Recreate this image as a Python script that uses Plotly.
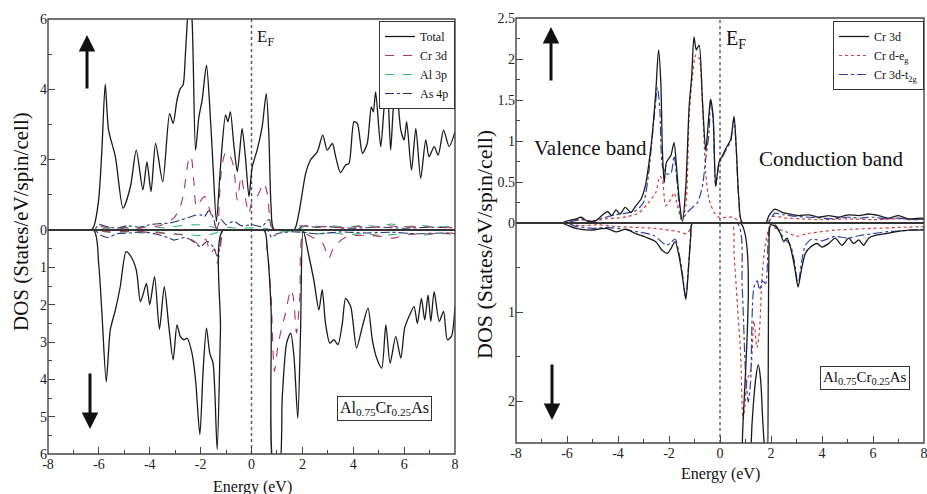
import plotly.graph_objects as go

W, H = 927, 494
SERIF = "Liberation Serif, Times New Roman, serif"

# ---------------- Al0.75Cr0.25As : total and partial DOS ----------------
# (energy in eV, DOS in states/eV/spin/cell); spin-down values stored as magnitudes
total_up = [(-8, 0), (-6.3, 0), (-6.2, 0.1), (-6.01, 0.85), (-5.88, 2.3), (-5.75, 4.15), (-5.62, 2.85),
            (-5.35, 2.08), (-5.05, 0.62), (-4.76, 1.23), (-4.53, 2.27), (-4.27, 1.14), (-4.11, 1.94),
            (-3.95, 1.09), (-3.77, 2.46), (-3.49, 1.37), (-3.22, 3.31), (-3.08, 3.03), (-2.93, 3.69),
            (-2.80, 4.02), (-2.69, 4.12), (-2.59, 5.11), (-2.45, 6.6), (-2.34, 6.0), (-2.2, 2.27),
            (-2.07, 3.2), (-1.94, 3.7), (-1.77, 4.69), (-1.64, 3.5), (-1.51, 1.8), (-1.38, 0.24),
            (-1.22, 1.8), (-1.02, 3.27), (-0.93, 3.08), (-0.83, 3.36), (-0.70, 2.46), (-0.56, 1.66),
            (-0.46, 2.27), (-0.37, 2.89), (-0.24, 2.08), (-0.10, 0.95), (0.03, 1.8), (0.22, 2.27),
            (0.42, 2.94), (0.58, 3.88), (0.68, 2.75), (0.77, 0.66), (0.88, 0.02), (1.67, 0),
            (1.86, 0.47), (2.13, 1.61), (2.32, 1.99), (2.59, 2.23), (2.80, 2.70), (2.98, 2.27),
            (3.18, 2.46), (3.31, 2.08), (3.50, 1.63), (3.70, 1.85), (3.83, 1.89), (4.03, 3.08),
            (4.16, 3.03), (4.36, 2.18), (4.55, 2.46), (4.71, 3.5), (4.79, 3.36), (4.88, 3.93),
            (5.08, 2.37), (5.24, 3.69), (5.34, 4.02), (5.47, 2.27), (5.60, 3.69), (5.70, 3.98),
            (5.87, 2.84), (6.00, 2.56), (6.10, 3.08), (6.29, 1.7), (6.46, 2.89), (6.65, 1.47),
            (6.85, 2.56), (6.98, 2.08), (7.18, 2.37), (7.34, 2.13), (7.55, 2.84), (7.77, 2.37),
            (8.0, 2.79)]

total_dn = [(-8, 0), (-6.21, 0), (-6.01, 0.89), (-5.88, 2.23), (-5.71, 4.06), (-5.55, 2.67), (-5.35, 2.14),
            (-5.16, 1.52), (-4.93, 0.58), (-4.74, 0.71), (-4.53, 1.07), (-4.37, 1.92), (-4.27, 1.74),
            (-4.13, 1.43), (-4.0, 2.0), (-3.81, 1.25), (-3.62, 2.66), (-3.43, 1.52), (-3.25, 2.58),
            (-3.08, 3.48), (-2.93, 2.54), (-2.8, 2.85), (-2.66, 2.94), (-2.53, 2.9), (-2.34, 3.3),
            (-2.2, 4.01), (-2.03, 5.48), (-1.90, 3.74), (-1.77, 2.63), (-1.64, 3.3), (-1.51, 3.57),
            (-1.35, 5.88), (-1.22, 2.67), (-1.12, 0), (0.49, 0), (0.62, 0.53), (0.77, 2.14),
            (0.88, 6.4), (1.08, 6.4), (1.21, 4.46), (1.38, 3.03), (1.54, 2.76), (1.67, 3.39),
            (1.82, 5.04), (1.93, 2.67), (2.03, 0), (2.26, 0.71), (2.45, 1.34), (2.65, 2.14),
            (2.78, 1.6), (2.91, 2.5), (3.08, 3.03), (3.24, 2.94), (3.40, 3.07), (3.57, 2.5),
            (3.70, 1.83), (3.90, 2.05), (4.13, 3.16), (4.36, 2.58), (4.58, 2.09), (4.75, 2.94),
            (4.92, 3.43), (5.12, 3.7), (5.28, 2.54), (5.45, 3.57), (5.67, 2.85), (5.87, 3.43),
            (6.02, 2.63), (6.19, 2.32), (6.39, 2.05), (6.52, 2.5), (6.68, 1.83), (6.81, 2.41),
            (6.94, 1.74), (7.05, 2.45), (7.18, 1.65), (7.38, 2.45), (7.55, 2.18), (7.70, 2.94),
            (7.86, 2.85), (8.0, 2.05)]

cr3d_up = [(-8, 0), (-6.2, 0), (-6.0, 0.1), (-5.6, 0.05), (-5.2, 0.03), (-4.8, 0.08), (-4.4, 0.05),
           (-4.0, 0.1), (-3.6, 0.12), (-3.32, 0.24), (-3.06, 0.33), (-2.93, 0.47), (-2.8, 0.66),
           (-2.67, 1.04), (-2.56, 1.6), (-2.47, 2.0), (-2.38, 2.1), (-2.27, 1.42), (-2.17, 0.66),
           (-2.03, 0.8), (-1.85, 0.95), (-1.68, 0.66), (-1.48, 0.19), (-1.35, 0.05), (-1.22, 1.42),
           (-1.09, 2.08), (-0.98, 2.23), (-0.83, 2.08), (-0.7, 1.8), (-0.56, 0.85), (-0.41, 1.52),
           (-0.28, 1.04), (-0.1, 0.47), (0.03, 0.85), (0.22, 0.95), (0.49, 1.33), (0.62, 1.04),
           (0.77, 0.1), (0.9, 0), (1.7, 0), (1.9, 0.12), (2.4, 0.08), (3.0, 0.1), (3.6, 0.06),
           (4.2, 0.1), (4.8, 0.08), (5.4, 0.12), (6.0, 0.08), (6.6, 0.1), (7.2, 0.07), (8.0, 0.08)]

cr3d_dn = [(-8, 0), (-6.2, 0), (-5.6, 0.05), (-4.8, 0.04), (-4.0, 0.06), (-3.2, 0.1), (-2.6, 0.15),
           (-2.0, 0.4), (-1.8, 0.25), (-1.61, 0.62), (-1.45, 0.5), (-1.35, 0.89), (-1.22, 0.5),
           (-1.12, 0), (0.49, 0), (0.62, 0.53), (0.77, 1.8), (0.9, 3.79), (1.04, 3.1), (1.17, 2.67),
           (1.34, 2.23), (1.54, 1.6), (1.64, 1.78), (1.77, 2.76), (1.9, 1.78), (2.03, 0.1),
           (2.45, 0.22), (2.8, 0.36), (3.04, 0.76), (3.24, 0.45), (3.75, 0.18), (4.5, 0.14),
           (5.2, 0.18), (5.5, 0.22), (6.2, 0.12), (7.0, 0.1), (8.0, 0.08)]

al3p_up = [(-8, 0), (-6.2, 0), (-5.8, 0.05), (-5.2, 0.08), (-4.6, 0.04), (-4.0, 0.1), (-3.4, 0.06),
           (-2.8, 0.12), (-2.2, 0.15), (-1.6, 0.1), (-1.3, 0.04), (-1.0, 0.08), (-0.5, 0.05),
           (0.0, 0.06), (0.5, 0.05), (0.85, 0), (1.8, 0), (2.2, 0.15), (2.6, 0.1), (3.2, 0.12),
           (3.8, 0.08), (4.4, 0.14), (5.0, 0.1), (5.5, 0.17), (6.0, 0.1), (6.6, 0.13), (7.2, 0.09),
           (8.0, 0.1)]

al3p_dn = [(-8, 0), (-6.2, 0), (-5.6, 0.06), (-5.0, 0.04), (-4.4, 0.08), (-3.8, 0.05), (-3.2, 0.1),
           (-2.6, 0.12), (-2.0, 0.15), (-1.5, 0.1), (-1.12, 0), (0.6, 0), (1.0, 0.05), (1.6, 0.04),
           (2.1, 0.06), (2.6, 0.1), (3.2, 0.08), (3.8, 0.12), (4.4, 0.1), (5.0, 0.14), (5.6, 0.12),
           (6.2, 0.1), (6.8, 0.13), (7.4, 0.09), (8.0, 0.12)]

as4p_up = [(-8, 0), (-6.2, 0), (-6.0, 0.15), (-5.7, 0.1), (-5.3, 0.05), (-4.9, 0.12), (-4.4, 0.08),
           (-4.0, 0.15), (-3.6, 0.18), (-3.2, 0.2), (-2.8, 0.28), (-2.5, 0.35), (-2.2, 0.42),
           (-2.0, 0.43), (-1.85, 0.38), (-1.68, 0.55), (-1.5, 0.35), (-1.38, 0.05), (-1.2, 0.3),
           (-1.0, 0.15), (-0.7, 0.25), (-0.4, 0.12), (0.0, 0.15), (0.4, 0.1), (0.7, 0.3), (0.85, 0),
           (1.8, 0), (2.0, 0.12), (2.5, 0.08), (3.0, 0.1), (3.5, 0.06), (4.0, 0.05), (5.0, 0.08),
           (6.0, 0.05), (7.0, 0.08), (8.0, 0.06)]

as4p_dn = [(-8, 0), (-6.2, 0), (-5.9, 0.15), (-5.62, 0.2), (-5.3, 0.1), (-4.8, 0.08), (-4.3, 0.05),
           (-3.8, 0.1), (-3.3, 0.2), (-3.06, 0.27), (-2.6, 0.2), (-2.3, 0.3), (-2.0, 0.45),
           (-1.75, 0.3), (-1.5, 0.45), (-1.35, 0.7), (-1.2, 0.3), (-1.12, 0), (0.6, 0), (0.8, 0.2),
           (1.0, 0.1), (1.5, 0.05), (2.0, 0.06), (2.5, 0.1), (3.0, 0.08), (3.5, 0.05), (4.5, 0.08),
           (5.5, 0.06), (6.5, 0.1), (7.5, 0.08), (8.0, 0.1)]

# ---------------- Cr 3d and its e_g / t_2g components ----------------
d_up = [(-8, 0), (-6.2, 0), (-6.04, 0.02), (-5.65, 0.05), (-5.45, 0.07), (-5.19, 0.02), (-4.86, 0.03),
        (-4.6, 0.1), (-4.41, 0.14), (-4.24, 0.09), (-4.08, 0.16), (-3.92, 0.11), (-3.72, 0.19),
        (-3.49, 0.13), (-3.3, 0.21), (-3.1, 0.29), (-2.93, 0.45), (-2.8, 0.7), (-2.65, 1.1),
        (-2.52, 1.59), (-2.41, 2.11), (-2.32, 1.71), (-2.26, 0.9), (-2.19, 0.49), (-2.1, 0.74),
        (-1.93, 0.82), (-1.8, 0.98), (-1.71, 0.7), (-1.6, 0.29), (-1.47, 0.02), (-1.34, 0.45),
        (-1.21, 1.42), (-1.11, 1.79), (-1.02, 2.27), (-0.93, 2.11), (-0.82, 2.17), (-0.69, 1.5),
        (-0.56, 0.88), (-0.47, 1.18), (-0.37, 1.51), (-0.27, 1.3), (-0.17, 0.45), (-0.04, 0.74),
        (0.09, 0.82), (0.25, 0.92), (0.42, 1.02), (0.55, 1.3), (0.64, 0.9), (0.74, 0.29),
        (0.87, 0.01), (1.79, 0), (1.92, 0.09), (2.15, 0.17), (2.44, 0.13), (2.7, 0.11),
        (3.09, 0.09), (3.48, 0.1), (3.87, 0.07), (4.26, 0.09), (4.65, 0.07), (5.05, 0.1),
        (5.44, 0.09), (5.83, 0.11), (6.22, 0.09), (6.61, 0.06), (7.0, 0.09), (7.39, 0.05),
        (7.91, 0.06), (8.0, 0.05)]

eg_up = [(-8, 0), (-6.1, 0), (-5.8, 0.03), (-5.45, 0.05), (-5.0, 0.02), (-4.5, 0.05), (-4.0, 0.06),
         (-3.6, 0.08), (-3.2, 0.12), (-2.8, 0.25), (-2.52, 0.37), (-2.36, 0.57), (-2.26, 0.53),
         (-2.13, 0.21), (-1.93, 0.29), (-1.8, 0.37), (-1.67, 0.21), (-1.5, 0.03), (-1.34, 0.21),
         (-1.21, 1.3), (-1.08, 1.79), (-0.95, 2.05), (-0.82, 2.01), (-0.69, 1.46), (-0.56, 0.61),
         (-0.43, 0.29), (-0.23, 0.13), (-0.04, 0.07), (0.5, 0.07), (0.7, 0.03), (0.85, 0),
         (1.85, 0), (2.1, 0.08), (2.6, 0.06), (3.2, 0.05), (4.0, 0.04), (5.0, 0.05), (6.0, 0.04),
         (7.0, 0.05), (8.0, 0.04)]

t2g_up = [(-8, 0), (-6.1, 0), (-5.8, 0.02), (-5.45, 0.04), (-5.0, 0.02), (-4.6, 0.06), (-4.1, 0.1),
          (-3.7, 0.12), (-3.3, 0.15), (-3.0, 0.25), (-2.8, 0.6), (-2.58, 1.3), (-2.45, 1.65),
          (-2.36, 1.38), (-2.26, 0.7), (-2.1, 0.6), (-1.93, 0.6), (-1.8, 0.82), (-1.67, 0.45),
          (-1.5, 0.05), (-1.28, 0.13), (-1.08, 0.19), (-0.88, 0.25), (-0.69, 0.45), (-0.56, 0.78),
          (-0.43, 1.1), (-0.37, 1.5), (-0.27, 1.28), (-0.17, 0.45), (-0.04, 0.72), (0.09, 0.8),
          (0.25, 0.9), (0.42, 1.0), (0.55, 1.28), (0.64, 0.88), (0.74, 0.28), (0.87, 0),
          (1.85, 0), (2.0, 0.06), (2.15, 0.12), (2.5, 0.1), (3.0, 0.08), (3.5, 0.07), (4.0, 0.06),
          (4.5, 0.05), (5.0, 0.07), (5.5, 0.06), (6.0, 0.07), (6.5, 0.05), (7.0, 0.06),
          (7.5, 0.04), (8.0, 0.05)]

d_dn = [(-8, 0), (-6.2, 0), (-5.95, 0.03), (-5.65, 0.06), (-5.1, 0.08), (-4.45, 0.06), (-4.08, 0.1),
        (-3.69, 0.07), (-3.3, 0.12), (-2.91, 0.16), (-2.52, 0.21), (-2.26, 0.31), (-2.06, 0.34),
        (-1.93, 0.29), (-1.76, 0.21), (-1.6, 0.38), (-1.47, 0.61), (-1.34, 0.86), (-1.24, 0.53),
        (-1.15, 0.16), (-1.08, 0), (0.81, 0), (0.87, 2.6), (1.0, 3.2), (1.15, 2.9), (1.26, 2.24),
        (1.40, 1.75), (1.5, 1.59), (1.59, 1.75), (1.68, 2.24), (1.76, 2.6), (1.85, 2.9),
        (1.92, 0.34), (1.98, 0.02), (2.18, 0.04), (2.37, 0.12), (2.5, 0.21), (2.63, 0.17),
        (2.76, 0.27), (2.93, 0.5), (3.06, 0.72), (3.19, 0.53), (3.35, 0.34), (3.55, 0.27),
        (3.81, 0.23), (4.0, 0.27), (4.26, 0.23), (4.52, 0.17), (4.78, 0.25), (5.05, 0.17),
        (5.24, 0.23), (5.44, 0.19), (5.63, 0.25), (5.83, 0.17), (6.09, 0.14), (6.48, 0.12),
        (6.87, 0.1), (7.39, 0.08), (7.91, 0.08), (8.0, 0.08)]

eg_dn = [(-8, 0), (-6.1, 0), (-5.5, 0.03), (-4.8, 0.02), (-4.0, 0.04), (-3.2, 0.05), (-2.6, 0.06),
         (-2.0, 0.08), (-1.6, 0.1), (-1.3, 0.12), (-1.15, 0.05), (-1.08, 0), (0.45, 0), (0.55, 0.34),
         (0.68, 0.91), (0.81, 1.48), (0.9, 2.2), (0.98, 2.05), (1.07, 1.75), (1.2, 1.67),
         (1.33, 1.1), (1.45, 1.4), (1.55, 1.2), (1.65, 0.6), (1.8, 0.2), (1.95, 0.05), (2.2, 0.06),
         (2.6, 0.1), (3.0, 0.15), (3.4, 0.12), (3.9, 0.1), (4.5, 0.08), (5.2, 0.07), (6.0, 0.06),
         (7.0, 0.05), (8.0, 0.04)]

t2g_dn = [(-8, 0), (-6.1, 0), (-5.6, 0.04), (-5.0, 0.06), (-4.4, 0.05), (-3.8, 0.07), (-3.2, 0.1),
          (-2.6, 0.14), (-2.1, 0.25), (-1.93, 0.22), (-1.76, 0.18), (-1.6, 0.35), (-1.47, 0.58),
          (-1.34, 0.84), (-1.24, 0.5), (-1.15, 0.15), (-1.08, 0), (0.68, 0), (0.87, 0.72),
          (1.0, 1.67), (1.11, 2.01), (1.2, 1.78), (1.33, 0.72), (1.46, 0.65), (1.55, 0.75),
          (1.66, 0.65), (1.79, 0.68), (1.89, 0.17), (1.98, 0), (2.2, 0.03), (2.45, 0.15),
          (2.76, 0.25), (2.93, 0.45), (3.06, 0.7), (3.19, 0.45), (3.35, 0.25), (3.6, 0.18),
          (4.0, 0.2), (4.5, 0.15), (5.0, 0.17), (5.5, 0.14), (6.0, 0.12), (6.5, 0.1), (7.0, 0.09),
          (7.5, 0.08), (8.0, 0.07)]

energy_ticks = [-8, -6, -4, -2, 0, 2, 4, 6, 8]
energy_labels = ["-8", "-6", "-4", "-2", "0", "2", "4", "6", "8"]


def unzip(pairs):
    return [p[0] for p in pairs], [p[1] for p in pairs]


def fx(px):
    return px / W


def fy(py):
    return 1 - py / H


# panel boxes in page pixels
LX0, LX1, LTOP, LMID, LBOT = 48, 455, 19, 230, 454
RX0, RX1, RTOP, RMID, RBOT = 516, 924, 18, 223, 443

BLACK = "#1a1a1a"
CR_RED = "#b0385a"
AL_GRN = "#2eb872"
AS_BLU = "#26307a"
EG_RED = "#d23c3c"
T2_BLU = "#3440a6"

fig = go.Figure()


def add(pairs, xa, ya, name, color, dash, width, legend, show, rank):
    x, y = unzip(pairs)
    fig.add_trace(go.Scatter(
        x=x, y=y, xaxis=xa, yaxis=ya, mode="lines", name=name,
        line=dict(color=color, dash=dash, width=width, shape="spline", smoothing=0.7),
        legend=legend, legendgroup=legend + name, showlegend=show, legendrank=rank,
        hoverinfo="skip"))


# left panel: spin up (y) and spin down (y2)
for pairs, ya, show in ((al3p_up, "y", True), (al3p_dn, "y2", False)):
    add(pairs, "x", ya, "Al 3p", AL_GRN, "dash", 1.1, "legend", show, 3)
for pairs, ya, show in ((as4p_up, "y", True), (as4p_dn, "y2", False)):
    add(pairs, "x", ya, "As 4p", AS_BLU, "dashdot", 1.1, "legend", show, 4)
for pairs, ya, show in ((cr3d_up, "y", True), (cr3d_dn, "y2", False)):
    add(pairs, "x", ya, "Cr 3d", CR_RED, "dash", 1.1, "legend", show, 2)
for pairs, ya, show in ((total_up, "y", True), (total_dn, "y2", False)):
    add(pairs, "x", ya, "Total", BLACK, "solid", 1.3, "legend", show, 1)

# right panel: spin up (y3) and spin down (y4)
for pairs, ya, show in ((eg_up, "y3", True), (eg_dn, "y4", False)):
    add(pairs, "x2", ya, "Cr d-e<sub>g</sub>", EG_RED, "dot", 1.2, "legend2", show, 2)
for pairs, ya, show in ((t2g_up, "y3", True), (t2g_dn, "y4", False)):
    add(pairs, "x2", ya, "Cr 3d-t<sub>2g</sub>", T2_BLU, "dashdot", 1.2, "legend2", show, 3)
for pairs, ya, show in ((d_up, "y3", True), (d_dn, "y4", False)):
    add(pairs, "x2", ya, "Cr 3d", BLACK, "solid", 1.3, "legend2", show, 1)

tickfont = dict(family=SERIF, size=14, color="#222")
tick_common = dict(ticks="inside", tickcolor="#444", tickwidth=1.2, showgrid=False,
                   zeroline=False, showline=False, tickfont=tickfont, fixedrange=True,
                   automargin=False, ticklabeloverflow="allow")


def xax(x0, x1, anchor):
    return dict(domain=[fx(x0), fx(x1)], range=[-8, 8], anchor=anchor, tickmode="array",
                tickvals=energy_ticks, ticktext=energy_labels, ticklen=7,
                minor=dict(tickmode="array", tickvals=[-7, -5, -3, -1, 1, 3, 5, 7],
                           ticks="inside", ticklen=4, tickcolor="#444"),
                **tick_common)


def yax(top, bot, rng, vals, labels, minor_vals, anchor):
    return dict(domain=[fy(bot), fy(top)], range=rng, anchor=anchor, tickmode="array",
                tickvals=vals, ticktext=labels, ticklen=7,
                minor=dict(tickmode="array", tickvals=minor_vals, ticks="inside",
                           ticklen=4, tickcolor="#444"),
                **tick_common)


legend_style = dict(xanchor="right", y=fy(21), yanchor="top", bgcolor="white",
                    bordercolor="#333", borderwidth=1,
                    font=dict(family=SERIF, size=12, color="#111"),
                    tracegroupgap=0, itemwidth=30)

fig.update_layout(
    width=W, height=H, margin=dict(l=0, r=0, t=0, b=0, autoexpand=False),
    paper_bgcolor="white", plot_bgcolor="white",
    font=dict(family=SERIF, color="#222"),
    xaxis=xax(LX0, LX1, "y2"),
    yaxis=yax(LTOP, LMID, [0, 6], [0, 2, 4, 6], ["0", "2", "4", "6"], [1, 3, 5], "x"),
    yaxis2=yax(LMID, LBOT, [6, 0], [1, 2, 3, 4, 5, 6], ["1", "2", "3", "4", "5", "6"],
               [0.5, 1.5, 2.5, 3.5, 4.5, 5.5], "x"),
    xaxis2=xax(RX0, RX1, "y4"),
    yaxis3=yax(RTOP, RMID, [0, 2.5], [0, 0.5, 1, 1.5, 2, 2.5],
               ["0", "0.5", "1", "1.5", "2", "2.5"], [0.25, 0.75, 1.25, 1.75, 2.25], "x2"),
    yaxis4=yax(RMID, RBOT, [2.47, 0], [1, 2], ["1", "2"], [0.5, 1.5], "x2"),
    legend=dict(x=fx(LX1), **legend_style),
    legend2=dict(x=fx(RX1), **legend_style),
    showlegend=True,
)

shapes = []
for x0, x1, top, mid, bot, xa in ((LX0, LX1, LTOP, LMID, LBOT, "x"),
                                  (RX0, RX1, RTOP, RMID, RBOT, "x2")):
    # Fermi level
    shapes.append(dict(type="line", xref=xa, yref="paper", x0=0, x1=0, y0=fy(bot), y1=fy(top),
                       line=dict(color="#555", width=1.4, dash="dot"), layer="below"))
    # zero line
    shapes.append(dict(type="line", xref="paper", yref="paper", x0=fx(x0), x1=fx(x1),
                       y0=fy(mid), y1=fy(mid), line=dict(color="#333", width=2)))
    # frame
    shapes.append(dict(type="rect", xref="paper", yref="paper", x0=fx(x0), x1=fx(x1),
                       y0=fy(bot), y1=fy(top), line=dict(color="#444", width=1.4)))
fig.update_layout(shapes=shapes)

ann = []


def text(px, py, s, size, xanchor="center", yanchor="middle", **kw):
    ann.append(dict(x=fx(px), y=fy(py), xref="paper", yref="paper", text=s, showarrow=False,
                    xanchor=xanchor, yanchor=yanchor,
                    font=dict(family=SERIF, size=size, color="#111"), **kw))


def arrow(px, py, dy):
    ann.append(dict(x=fx(px), y=fy(py), xref="paper", yref="paper", text="", showarrow=True,
                    ax=0, ay=dy, arrowhead=2, arrowsize=1.1, arrowwidth=3, arrowcolor="#111"))


# Fermi-level labels
text(255, 38, "E<sub>F</sub>", 17, xanchor="left")
text(724, 40, "E<sub>F</sub>", 20, xanchor="left")
# spin arrows
arrow(87, 35, 55)
arrow(90, 429, -57)
arrow(551, 27, 55)
arrow(552, 420, -57)
# band labels
text(590, 148, "Valence band", 21)
text(831, 159, "Conduction band", 21)
# compound labels
text(384, 408, "Al<sub>0.75</sub>Cr<sub>0.25</sub>As", 16, bordercolor="#333", borderwidth=1,
     borderpad=2, bgcolor="white")
text(865, 378, "Al<sub>0.75</sub>Cr<sub>0.25</sub>As", 15, bordercolor="#333", borderwidth=1,
     borderpad=2, bgcolor="white")
# axis titles
text(252, 487, "Energy (eV)", 16)
text(720, 474, "Energy (eV)", 16)
text(21, 222, "DOS (States/eV/spin/cell)", 21, textangle=-90)
text(484, 245, "DOS (States/eV/spin/cell)", 22, textangle=-90)
fig.update_layout(annotations=ann)

fig.write_html("out.html")
